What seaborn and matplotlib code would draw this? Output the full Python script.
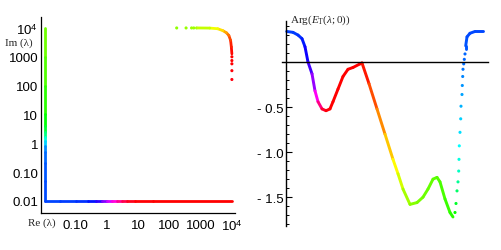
import numpy as np
import matplotlib
matplotlib.use("Agg")
import matplotlib.pyplot as plt
import seaborn as sns
from matplotlib.collections import LineCollection
from matplotlib.colors import hsv_to_rgb
from matplotlib.ticker import FixedLocator, MultipleLocator, NullFormatter

# ---- left panel: lambda path, log-log ----
# left edge, Re = 0.01, running down
left_edge_im = [10000, 1000, 100, 10, 4, 2.5, 1.6, 1.2, 0.8, 0.5, 0.2, 0.05, 0.01]
left_edge_hue = [1.25, 1.27, 1.29, 1.32, 1.35, 1.38, 1.45, 1.50, 1.56, 1.59, 1.605, 1.615, 1.62]

# bottom edge, Im = 0.01, running right
bottom_edge_re = [0.01, 0.03, 0.1, 0.25, 0.45, 0.7, 1.0, 1.4, 2.0, 3.0, 4.5, 8, 30, 10000]
bottom_edge_hue = [0.62, 0.625, 0.63, 0.64, 0.67, 0.72, 0.78, 0.83, 0.88, 0.93, 0.97, 0.995, 1.0, 1.0]

# top-right corner (dense part)
corner_re = [10000, 9600, 9100, 8000, 6700, 5100, 3500, 1950, 810]
corner_im = [1260, 2200, 3700, 5500, 6800, 8100, 9400, 9900, 10000]
corner_hue = [1.0, 1.01, 1.03, 1.06, 1.09, 1.13, 1.16, 1.19, 1.22]

# sparse points on the right and top edges
right_dots_re = [10000, 10000, 10000, 10000, 10000]
right_dots_im = [1000, 740, 570, 330, 163]
right_dots_hue = [1.0, 1.0, 1.0, 0.995, 0.99]
top_dots_re = [740, 600, 510, 340, 170]
top_dots_im = [10000, 10000, 10000, 10000, 10000]
top_dots_hue = [1.225, 1.23, 1.23, 1.235, 1.24]

x_ticks = [0.1, 1, 10, 100, 1000, 10000]
x_tick_labels = ["0.10", "1", "10", "100", "1000", r"10$^{\mathsf{4}}$"]
y_ticks = [0.01, 0.1, 1, 10, 100, 1000, 10000]
y_tick_labels = ["0.01", "0.10", "1", "10", "100", "1000", r"10$^{\mathsf{4}}$"]

# ---- right panel: Arg(E_T(lambda;0)) along the path ----
curve_a_t = [0.7, 7, 12, 16, 19, 22, 26, 29, 32, 36, 40, 44, 47, 52, 57, 62, 67, 74, 76,
             83, 91, 99, 107, 112, 117, 124, 131, 137, 142, 147, 151, 154, 159, 164, 167]
curve_a_arg = [0.34, 0.33, 0.30, 0.26, 0.17, 0.0, -0.13, -0.32, -0.44, -0.52, -0.54, -0.52,
               -0.44, -0.30, -0.16, -0.08, -0.06, -0.02, -0.01,
               -0.24, -0.52, -0.80, -1.08, -1.24, -1.41, -1.58, -1.56, -1.50, -1.41, -1.30,
               -1.28, -1.33, -1.52, -1.67, -1.72]
curve_a_hue = [0.625, 0.625, 0.63, 0.64, 0.66, 0.69, 0.73, 0.80, 0.88, 0.95, 0.99, 1.0,
               1.0, 1.0, 1.0, 1.0, 1.0, 1.0, 1.0,
               1.03, 1.07, 1.11, 1.15, 1.18, 1.21, 1.24, 1.25, 1.26, 1.265, 1.27,
               1.275, 1.28, 1.29, 1.30, 1.31]

dots_t = [169, 170, 171, 172, 172.7, 173, 173.3, 174, 174.7, 175, 176, 176.3, 176.7,
          177, 177.7, 178.3, 179]
dots_arg = [-1.67, -1.57, -1.43, -1.33, -1.21, -1.08, -0.93, -0.78, -0.63, -0.49, -0.36,
            -0.26, -0.16, -0.08, -0.02, 0.03, 0.09]
dots_hue = [1.33, 1.36, 1.40, 1.43, 1.46, 1.48, 1.50, 1.52, 1.53, 1.55, 1.56, 1.57, 1.58,
            1.59, 1.595, 1.60, 1.60]

curve_b_t = [179.7, 179.7, 181, 184, 189, 197]
curve_b_arg = [0.14, 0.18, 0.28, 0.32, 0.34, 0.34]
curve_b_hue = [1.61, 1.61, 1.615, 1.62, 1.62, 1.62]

arg_ticks = [-1.5, -1.0, -0.5]
arg_tick_labels = ["- 1.5", "- 1.0", "- 0.5"]


def hue_rgb(h):
    return hsv_to_rgb([h % 1.0, 1.0, 1.0])


def gradient_line(ax, x, y, h, lw):
    pts = np.column_stack([x, y])
    segs = np.stack([pts[:-1], pts[1:]], axis=1)
    cols = [hue_rgb((a + b) / 2) for a, b in zip(h[:-1], h[1:])]
    lc = LineCollection(segs, colors=cols, linewidths=lw, capstyle="round",
                        joinstyle="round")
    ax.add_collection(lc, autolim=False)


def hue_dots(ax, x, y, h, size):
    keys = [f"p{i}" for i in range(len(x))]
    pal = {k: hue_rgb(v) for k, v in zip(keys, h)}
    sns.scatterplot(x=x, y=y, hue=keys, palette=pal, s=size, linewidth=0,
                    legend=False, ax=ax)


sns.set_style("white")
plt.rcParams["font.family"] = ["Liberation Sans", "DejaVu Sans"]
plt.rcParams["mathtext.fontset"] = "custom"
plt.rcParams["mathtext.rm"] = "Liberation Serif"
plt.rcParams["mathtext.it"] = "Liberation Serif:italic"
plt.rcParams["mathtext.sf"] = "Liberation Sans"

fig = plt.figure(figsize=(5.01, 2.51), dpi=100)
fig.patch.set_facecolor("white")

# left panel
ax1 = fig.add_axes([41 / 501, 1 - 214 / 251, 194 / 501, 196 / 251])
ax1.set_xscale("log")
ax1.set_yscale("log")
ax1.set_xlim(10 ** -2.12, 10 ** 4.1)
ax1.set_ylim(10 ** -2.42, 10 ** 4.38)

gradient_line(ax1, [0.01] * len(left_edge_im), left_edge_im, left_edge_hue, 2.0)
gradient_line(ax1, bottom_edge_re, [0.01] * len(bottom_edge_re), bottom_edge_hue, 2.0)
gradient_line(ax1, corner_re, corner_im, corner_hue, 2.0)
hue_dots(ax1, right_dots_re, right_dots_im, right_dots_hue, 5)
hue_dots(ax1, top_dots_re, top_dots_im, top_dots_hue, 5)

for side in ["top", "right"]:
    ax1.spines[side].set_visible(False)
for side in ["left", "bottom"]:
    ax1.spines[side].set_color("black")
    ax1.spines[side].set_linewidth(0.9)
ax1.xaxis.set_major_locator(FixedLocator(x_ticks))
ax1.xaxis.set_minor_formatter(NullFormatter())
ax1.yaxis.set_major_locator(FixedLocator(y_ticks))
ax1.yaxis.set_minor_formatter(NullFormatter())
ax1.set_xticks(x_ticks, x_tick_labels)
ax1.set_yticks(y_ticks, y_tick_labels)
ax1.tick_params(which="both", length=0, labelsize=9.5, colors="black")
ax1.tick_params(axis="x", pad=4)
ax1.tick_params(axis="y", pad=2)
ax1.set_xlabel("")
ax1.set_ylabel("")
fig.text(42 / 501, 1 - 223 / 251, "Re (λ)", family="Liberation Serif", fontsize=8,
         ha="center", va="center")
fig.text(19 / 501, 1 - 43 / 251, "Im (λ)", family="Liberation Serif", fontsize=8,
         ha="center", va="center")

# right panel
ax2 = fig.add_axes([282 / 501, 1 - 227 / 251, 206 / 501, 205 / 251])
ax2.set_xlim(-4, 202)
ax2.set_ylim(-1.82, 0.456)

gradient_line(ax2, curve_a_t, curve_a_arg, curve_a_hue, 2.1)
hue_dots(ax2, dots_t, dots_arg, dots_hue, 5)
gradient_line(ax2, curve_b_t, curve_b_arg, curve_b_hue, 2.1)

for side in ["top", "right"]:
    ax2.spines[side].set_visible(False)
ax2.spines["left"].set_position(("data", 0))
ax2.spines["bottom"].set_position(("data", 0))
for side in ["left", "bottom"]:
    ax2.spines[side].set_color("black")
    ax2.spines[side].set_linewidth(1.0)
ax2.set_xticks([])
ax2.set_yticks(arg_ticks, arg_tick_labels)
ax2.yaxis.set_minor_locator(MultipleLocator(0.1))
ax2.tick_params(axis="y", which="major", direction="in", length=4, width=0.8,
                labelsize=9.5, pad=2, colors="black", left=True)
ax2.tick_params(axis="y", which="minor", direction="in", length=2.5, width=0.7,
                colors="black", left=True)
ax2.set_xlabel("")
ax2.set_ylabel("")
ax2.patch.set_alpha(0)
fig.text(290 / 501, 1 - 20 / 251, r"Arg$(E_{\mathrm{T}}(\lambda;0))$",
         family="Liberation Serif", fontsize=8, ha="left", va="center")

fig.savefig("out.png", dpi=100, facecolor="white")
